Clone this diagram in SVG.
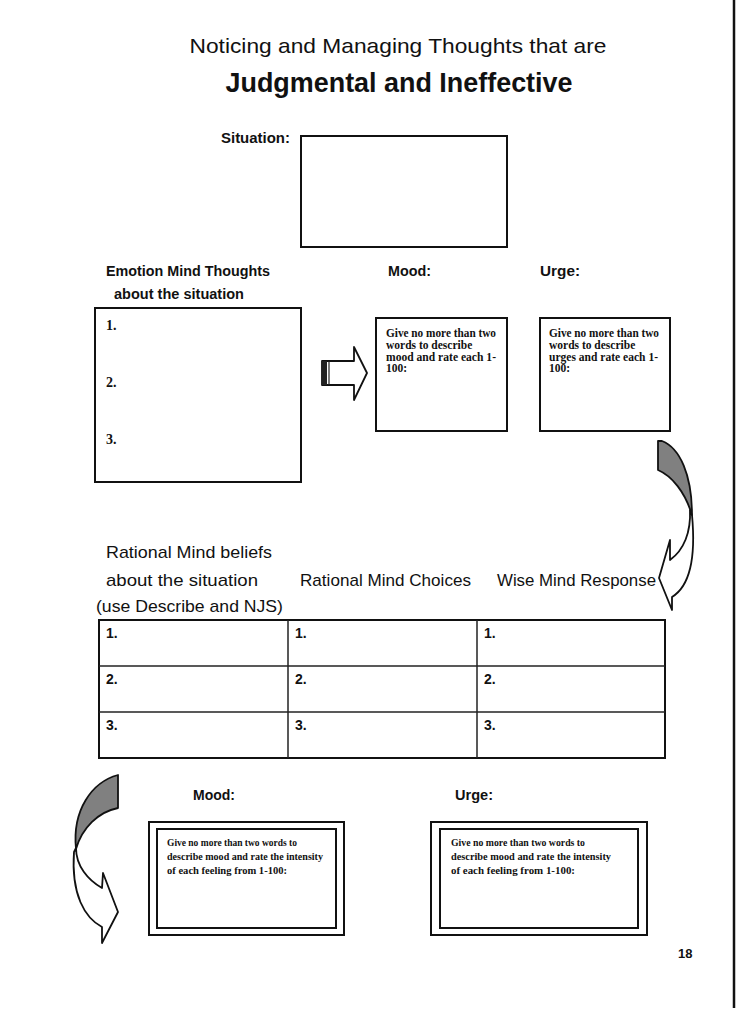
<svg xmlns="http://www.w3.org/2000/svg" width="736" height="1012" viewBox="0 0 736 1012">
<style>
.c{font-family:"Comic Sans MS","Liberation Sans",sans-serif;fill:#111}
.b{font-weight:bold}
.s{font-family:"Liberation Serif","Times New Roman",serif;font-weight:bold;fill:#111}
.box{fill:#fff;stroke:#111;stroke-width:2}
.thin{fill:none;stroke:#222;stroke-width:1.5}
.arr{fill:#fff;stroke:#111;stroke-width:1.8;stroke-linejoin:round}
.grey{fill:#808080;stroke:#111;stroke-width:1.8;stroke-linejoin:round}
</style>
<rect width="736" height="1012" fill="#fff"/>
<line x1="734" y1="0" x2="734" y2="1008" stroke="#111" stroke-width="2.5"/>

<g id="title">
<text class="c" x="398" y="53" font-size="21" text-anchor="middle" textLength="417" lengthAdjust="spacingAndGlyphs">Noticing and Managing Thoughts that are</text>
<text class="c b" x="399" y="92" font-size="27" text-anchor="middle" textLength="347" lengthAdjust="spacingAndGlyphs">Judgmental and Ineffective</text>
</g>

<g id="situation">
<text class="c b" x="221" y="143" font-size="14" textLength="69" lengthAdjust="spacingAndGlyphs">Situation:</text>
<rect class="box" x="301" y="136" width="206" height="111"/>
</g>

<g id="emotion-thoughts">
<text class="c b" x="106" y="276" font-size="14" textLength="164" lengthAdjust="spacingAndGlyphs">Emotion Mind Thoughts</text>
<text class="c b" x="114" y="299" font-size="14" textLength="130" lengthAdjust="spacingAndGlyphs">about the situation</text>
<rect class="box" x="95" y="308" width="206" height="174"/>
<text class="s" x="106" y="330" font-size="14">1.</text>
<text class="s" x="106" y="387" font-size="14">2.</text>
<text class="s" x="106" y="444" font-size="14">3.</text>
</g>

<g id="mood1">
<text class="c b" x="388" y="276" font-size="14" textLength="43" lengthAdjust="spacingAndGlyphs">Mood:</text>
<rect class="box" x="376" y="318" width="131" height="113"/>
<text class="s" font-size="11.5"><tspan x="386" y="337" textLength="110" lengthAdjust="spacingAndGlyphs">Give no more than two</tspan><tspan x="386" y="349">words to describe</tspan><tspan x="386" y="360.5" textLength="110" lengthAdjust="spacingAndGlyphs">mood and rate each 1-</tspan><tspan x="386" y="372">100:</tspan></text>
</g>

<g id="urge1">
<text class="c b" x="540" y="276" font-size="14" textLength="40" lengthAdjust="spacingAndGlyphs">Urge:</text>
<rect class="box" x="540" y="318" width="130" height="113"/>
<text class="s" font-size="11.5"><tspan x="549" y="337" textLength="110" lengthAdjust="spacingAndGlyphs">Give no more than two</tspan><tspan x="549" y="349">words to describe</tspan><tspan x="549" y="360.5" textLength="109" lengthAdjust="spacingAndGlyphs">urges and rate each 1-</tspan><tspan x="549" y="372">100:</tspan></text>
</g>

<g id="rational-table">
<text class="c" x="106" y="558" font-size="17" textLength="166" lengthAdjust="spacingAndGlyphs">Rational Mind beliefs</text>
<text class="c" x="106" y="586" font-size="17" textLength="152" lengthAdjust="spacingAndGlyphs">about the situation</text>
<text class="c" x="96" y="612" font-size="17" textLength="187" lengthAdjust="spacingAndGlyphs">(use Describe and NJS)</text>
<text class="c" x="300" y="586" font-size="17" textLength="171" lengthAdjust="spacingAndGlyphs">Rational Mind Choices</text>
<text class="c" x="497" y="586" font-size="17" textLength="159" lengthAdjust="spacingAndGlyphs">Wise Mind Response</text>
<rect class="box" x="99" y="620" width="566" height="138"/>
<line class="thin" x1="288" y1="620" x2="288" y2="758"/>
<line class="thin" x1="477" y1="620" x2="477" y2="758"/>
<line class="thin" x1="99" y1="666" x2="665" y2="666"/>
<line class="thin" x1="99" y1="712" x2="665" y2="712"/>
<g class="c" font-size="14" font-weight="bold">
<text x="106" y="638">1.</text><text x="295" y="638">1.</text><text x="484" y="638">1.</text>
<text x="106" y="684">2.</text><text x="295" y="684">2.</text><text x="484" y="684">2.</text>
<text x="106" y="730">3.</text><text x="295" y="730">3.</text><text x="484" y="730">3.</text>
</g>
</g>

<g id="mood2">
<text class="c b" x="193" y="800" font-size="14" textLength="42" lengthAdjust="spacingAndGlyphs">Mood:</text>
<rect class="box" x="149" y="822" width="195" height="113"/>
<rect class="box" x="157" y="829" width="179" height="99" stroke-width="2.5"/>
<text class="s" font-size="10.5"><tspan x="167" y="846" textLength="130" lengthAdjust="spacingAndGlyphs">Give no more than two words to</tspan><tspan x="167" y="860" textLength="156" lengthAdjust="spacingAndGlyphs">describe mood and rate the intensity</tspan><tspan x="167" y="874" textLength="120" lengthAdjust="spacingAndGlyphs">of each feeling from 1-100:</tspan></text>
</g>

<g id="urge2">
<text class="c b" x="455" y="800" font-size="14" textLength="38" lengthAdjust="spacingAndGlyphs">Urge:</text>
<rect class="box" x="431" y="822" width="216" height="113"/>
<rect class="box" x="440" y="829" width="198" height="99" stroke-width="2.5"/>
<text class="s" font-size="10.5"><tspan x="451" y="846" textLength="134" lengthAdjust="spacingAndGlyphs">Give no more than two words to</tspan><tspan x="451" y="860" textLength="160" lengthAdjust="spacingAndGlyphs">describe mood and rate the intensity</tspan><tspan x="451" y="874" textLength="124" lengthAdjust="spacingAndGlyphs">of each feeling from 1-100:</tspan></text>
</g>

<g id="page-number">
<text class="c b" x="678" y="958" font-size="13">18</text>
</g>

<g id="connectors">
<path class="arr" d="M322,361 L354,361 L354,347 L367,373 L354,400 L354,385 L322,385 Z"/>
<rect x="322" y="361" width="5" height="24" fill="#222"/>
<line x1="329" y1="361" x2="329" y2="385" stroke="#222" stroke-width="1.2"/>

<path class="arr" d="M690,510 C691,532 684,550 670,560 L670,540 L659,578 L672,610 L672,597 C690,586 696,558 692,515 Z"/>
<path class="grey" d="M658,441 L662,441 C680,448 692,475 692,515 C685,492 672,476 658,470 Z"/>

<path class="arr" d="M76,848 C76,866 88,880 102,888 L103,873 L118,912 L102,943 L102,927 C85,918 71,895 74,852 Z"/>
<path class="grey" d="M118,775 L118,808 C98,812 82,828 76,849 C72,810 92,782 118,775 Z"/>
</g>
</svg>
